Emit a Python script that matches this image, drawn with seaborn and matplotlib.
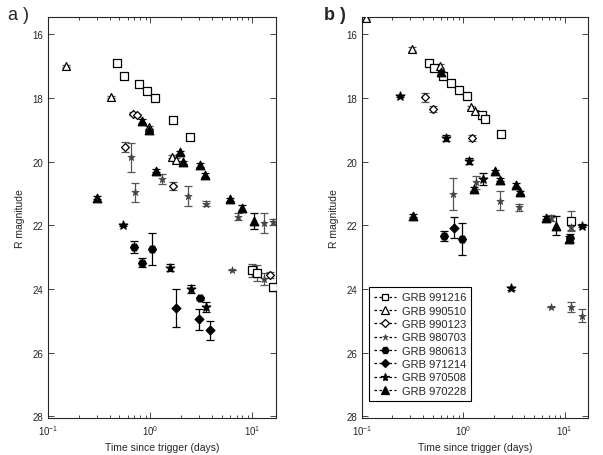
import matplotlib
matplotlib.use("Agg")
import matplotlib.pyplot as plt
from matplotlib.lines import Line2D
import seaborn as sns
import pandas as pd

# series order / names
grb_names = ["GRB 991216", "GRB 990510", "GRB 990123", "GRB 980703",
             "GRB 980613", "GRB 971214", "GRB 970508", "GRB 970228"]

# ---- panel a (observed) ----
a_991216_t = [0.47, 0.55, 0.77, 0.94, 1.12, 1.66, 2.47, 9.9, 11.0, 15.8]
a_991216_m = [16.92, 17.33, 17.57, 17.8, 18.02, 18.69, 19.22, 23.41, 23.5, 23.95]
a_991216_e = [0.05, 0.08, 0.08, 0.05, 0.08, 0.1, 0.05, 0.2, 0.25, 0.1]

a_990510_t = [0.15, 0.41, 0.98, 1.63, 1.77]
a_990510_m = [17.0, 17.97, 18.93, 19.85, 19.95]
a_990510_e = [0.03, 0.04, 0.04, 0.05, 0.05]

a_990123_t = [0.57, 0.68, 0.74, 1.69, 15.0]
a_990123_m = [19.55, 18.5, 18.55, 20.77, 23.57]
a_990123_e = [0.15, 0.05, 0.05, 0.12, 0.1]

a_980703_t = [0.65, 0.71, 1.30, 2.32, 3.54, 7.3, 12.9, 15.8, 6.3, 12.9]
a_980703_m = [19.87, 20.97, 20.55, 21.08, 21.32, 21.73, 21.93, 21.9, 23.41, 23.69]
a_980703_e = [0.45, 0.3, 0.15, 0.32, 0.08, 0.1, 0.3, 0.1, 0.0, 0.2]

a_980613_t = [0.70, 0.84, 1.04, 3.1]
a_980613_m = [22.68, 23.17, 22.75, 24.29]
a_980613_e = [0.18, 0.15, 0.5, 0.05]

a_971214_t = [1.8, 3.0, 3.87]
a_971214_m = [24.6, 24.95, 25.3]
a_971214_e = [0.6, 0.33, 0.3]

a_970508_t = [0.54, 1.57, 2.5, 3.54]
a_970508_m = [22.0, 23.33, 24.0, 24.56]
a_970508_e = [0.03, 0.1, 0.12, 0.15]

a_970228_t = [0.30, 0.83, 0.97, 1.15, 1.97, 2.09, 3.09, 3.4, 6.08, 7.9, 10.3]
a_970228_m = [21.13, 18.73, 19.02, 20.29, 19.71, 20.03, 20.11, 20.42, 21.18, 21.46, 21.86]
a_970228_e = [0.05, 0.05, 0.05, 0.05, 0.05, 0.05, 0.05, 0.05, 0.05, 0.08, 0.25]

# ---- panel b (shifted) ----
b_991216_t = [0.46, 0.52, 0.63, 0.75, 0.9, 1.1, 1.55, 1.65, 2.34, 11.6]
b_991216_m = [16.9, 17.05, 17.3, 17.52, 17.75, 17.95, 18.55, 18.65, 19.15, 21.86]
b_991216_e = [0.05, 0.08, 0.08, 0.08, 0.05, 0.05, 0.1, 0.1, 0.06, 0.3]

b_990510_t = [0.11, 0.31, 0.59, 1.2, 1.3]
b_990510_m = [15.5, 16.47, 17.0, 18.3, 18.42]
b_990510_e = [0.03, 0.05, 0.05, 0.05, 0.05]

b_990123_t = [0.418, 0.50, 1.23]
b_990123_m = [17.99, 18.35, 19.27]
b_990123_e = [0.15, 0.08, 0.1]

b_980703_t = [0.79, 1.33, 2.3, 3.55, 7.4, 11.6, 7.4, 11.6, 14.9]
b_980703_m = [21.02, 20.65, 21.23, 21.44, 21.78, 22.07, 24.55, 24.56, 24.84]
b_980703_e = [0.5, 0.2, 0.3, 0.1, 0.1, 0.1, 0.0, 0.15, 0.2]

b_980613_t = [0.65, 0.98, 11.2]
b_980613_m = [22.33, 22.44, 22.41]
b_980613_e = [0.15, 0.5, 0.12]

b_971214_t = [0.81]
b_971214_m = [22.08]
b_971214_e = [0.33]

b_970508_t = [0.237, 0.68, 1.13, 1.57, 2.94, 15.0]
b_970508_m = [17.94, 19.27, 19.98, 20.55, 23.98, 22.02]
b_970508_e = [0.04, 0.1, 0.1, 0.2, 0.05, 0.05]

b_970228_t = [0.32, 0.6, 1.27, 2.08, 2.29, 3.33, 3.6, 6.5, 8.3, 11.0]
b_970228_m = [21.7, 17.2, 20.85, 20.31, 20.57, 20.73, 20.97, 21.76, 22.02, 22.44]
b_970228_e = [0.04, 0.05, 0.06, 0.05, 0.05, 0.06, 0.06, 0.05, 0.3, 0.1]

y_ticks = [16, 18, 20, 22, 24, 26, 28]


def build_frame(prefix):
    rows = []
    for name in grb_names:
        key = prefix + "_" + name.split()[1]
        ts, ms, es = globals()[key + "_t"], globals()[key + "_m"], globals()[key + "_e"]
        for t, m, e in zip(ts, ms, es):
            rows.append({"grb": name, "t": t, "mag": m, "err": e})
    return pd.DataFrame(rows)


# marker, filled?, size
styles = {
    "GRB 991216": ("s", False, 30),
    "GRB 990510": ("^", False, 32),
    "GRB 990123": ("D", False, 16),
    "GRB 980703": ("*", False, 30),
    "GRB 980613": ("H", True, 32),
    "GRB 971214": ("D", True, 20),
    "GRB 970508": ("*", True, 42),
    "GRB 970228": ("^", True, 38),
}

sns.set_style("ticks")
plt.rcParams["font.family"] = ["Liberation Sans", "DejaVu Sans"]
plt.rcParams["mathtext.default"] = "regular"

fig = plt.figure(figsize=(6.03, 4.56), dpi=100)
ax_a = fig.add_axes([0.0796, 0.0811, 0.378, 0.879])
ax_b = fig.add_axes([0.600, 0.0811, 0.375, 0.879])

for ax, prefix in [(ax_a, "a"), (ax_b, "b")]:
    df = build_frame(prefix)
    for name in grb_names:
        sub = df[df["grb"] == name]
        marker, filled, size = styles[name]
        ecol = "black" if filled else "#555555"
        ax.errorbar(sub["t"], sub["mag"], yerr=sub["err"], fmt="none",
                    ecolor=ecol, elinewidth=0.9, capsize=3.2, capthick=0.9, zorder=2)
        if marker == "*" and not filled:
            sns.scatterplot(data=sub, x="t", y="mag", marker=marker, s=size,
                            color="#444444", edgecolor="#444444", linewidth=0.5,
                            ax=ax, zorder=3, legend=False)
        else:
            sns.scatterplot(data=sub, x="t", y="mag", marker=marker, s=size,
                            color="black" if filled else "white",
                            edgecolor="black", linewidth=0.9,
                            ax=ax, zorder=3, legend=False)
    ax.set_xscale("log")
    ax.set_xlim(0.1, 17.0)
    ax.set_ylim(28.05, 15.47)
    ax.set_yticks(y_ticks)
    ax.tick_params(axis="both", which="both", direction="in", top=True,
                   right=True, labelsize=7, width=0.6)
    ax.tick_params(which="major", length=4)
    ax.tick_params(which="minor", length=2)
    ax.set_xlabel("Time since trigger (days)", fontsize=7.5, labelpad=4)
    ax.set_ylabel("R magnitude", fontsize=7.5, labelpad=5)
    for sp in ax.spines.values():
        sp.set_linewidth(0.8)

fig.text(0.013, 0.965, "a )", fontsize=13, va="center")
fig.text(0.538, 0.965, "b )", fontsize=13, va="center", fontweight="bold")

handles = []
for name in grb_names:
    marker, filled, size = styles[name]
    ms = (size ** 0.5) * 0.9
    if marker == "*" and not filled:
        h = Line2D([], [], color="black", linestyle=(0, (2, 2)), linewidth=0.9,
                   marker="*", markersize=ms, markerfacecolor="#444444",
                   markeredgecolor="#444444", markeredgewidth=0.4)
    else:
        h = Line2D([], [], color="black", linestyle=(0, (2, 2)), linewidth=0.9,
                   marker=marker, markersize=ms,
                   markerfacecolor="black" if filled else "white",
                   markeredgecolor="black", markeredgewidth=0.9)
    handles.append(h)

leg = ax_b.legend(handles, grb_names, loc="lower left",
                  bbox_to_anchor=(0.032, 0.043), borderaxespad=0,
                  fontsize=8, frameon=True, fancybox=False, framealpha=1,
                  edgecolor="black", handlelength=2.0, labelspacing=0.3,
                  handletextpad=0.5, borderpad=0.45)
leg.get_frame().set_linewidth(0.8)

fig.savefig("out.png", dpi=100)
